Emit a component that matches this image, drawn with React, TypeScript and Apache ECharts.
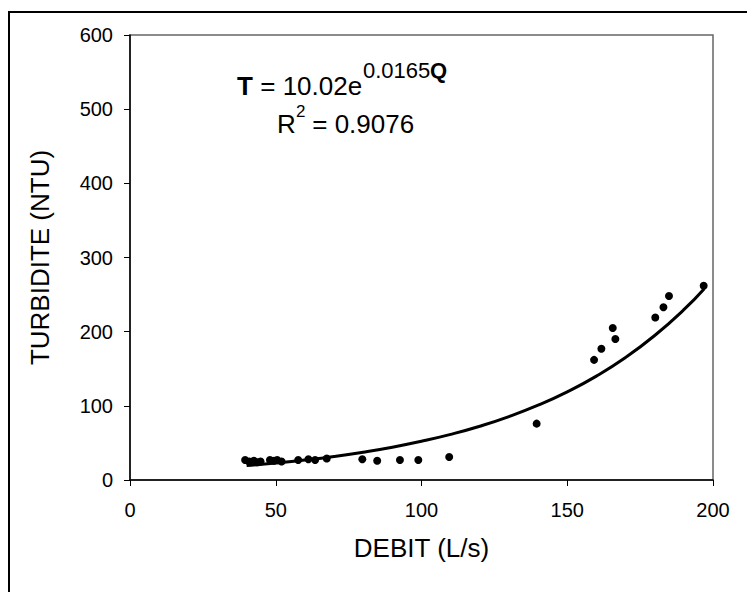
import React, { useEffect, useRef } from "react";
import * as echarts from "echarts";

// Observed points: discharge Q (L/s) and turbidity T (NTU)
const debit = [
  39.5, 40.9, 42.5, 43.7, 44.8, 48.0, 49.4, 50.5, 52.0, 57.7, 61.2, 63.5, 67.5,
  79.7, 84.8, 92.6, 98.9, 109.5, 139.5, 159.2, 161.7, 165.6, 166.5, 180.2, 183.0,
  184.9, 196.8,
];
const turbidite = [
  27, 25, 26, 24, 25, 27, 26, 27, 25, 27, 28, 27, 29, 28, 26, 27, 27, 31, 76,
  162, 177, 205, 190, 219, 233, 248, 262,
];

// Trend line
const trendQ = [40, 50, 60, 70, 80, 90, 100, 110, 120, 130, 140, 150, 160, 170, 180, 190, 197];
const trendT = [19.4, 22.9, 27.0, 31.8, 37.5, 44.2, 52.2, 61.5, 72.5, 85.5, 100.8, 118.8, 140.1, 165.2, 194.8, 229.6, 258];

const xTicks = [0, 50, 100, 150, 200];
const yTicks = [0, 100, 200, 300, 400, 500, 600];

const FONT = "'Liberation Sans', Arial, sans-serif";

export default function App() {
  const ref = useRef<HTMLDivElement>(null);
  useEffect(() => {
    if (!ref.current) return;
    const chart = echarts.init(ref.current, undefined, { renderer: "svg" });
    const pts = debit.map((q, i) => [q, turbidite[i]]);
    const trend = trendQ.map((q, i) => [q, trendT[i]]);
    chart.setOption({
      animation: false,
      backgroundColor: "#ffffff",
      textStyle: { fontFamily: FONT },
      grid: {
        left: 130,
        top: 35,
        right: 34,
        bottom: 112,
        show: true,
        borderColor: "#666666",
        borderWidth: 1.5,
        backgroundColor: "transparent",
      },
      xAxis: {
        type: "value",
        min: xTicks[0],
        max: xTicks[xTicks.length - 1],
        interval: 50,
        name: "DEBIT (L/s)",
        nameLocation: "middle",
        nameGap: 55,
        nameTextStyle: { fontSize: 26, color: "#000", fontFamily: FONT },
        axisLine: { show: true, onZero: false, lineStyle: { color: "#000", width: 1.5 } },
        axisTick: { show: true, inside: false, length: 6, lineStyle: { color: "#000", width: 1 } },
        axisLabel: { fontSize: 20, color: "#000", margin: 20, fontFamily: FONT },
        splitLine: { show: false },
      },
      yAxis: {
        type: "value",
        min: yTicks[0],
        max: yTicks[yTicks.length - 1],
        interval: 100,
        name: "TURBIDITE (NTU)",
        nameLocation: "middle",
        nameGap: 77,
        nameRotate: 90,
        nameTextStyle: { fontSize: 26, color: "#000", fontFamily: FONT },
        axisLine: { show: true, onZero: false, lineStyle: { color: "#000", width: 1.5 } },
        axisTick: { show: true, inside: false, length: 6, lineStyle: { color: "#000", width: 1 } },
        axisLabel: { fontSize: 20, color: "#000", margin: 17, fontFamily: FONT },
        splitLine: { show: false },
      },
      series: [
        {
          type: "line",
          data: trend,
          smooth: true,
          showSymbol: false,
          symbol: "none",
          lineStyle: { color: "#000", width: 3 },
          z: 2,
        },
        {
          type: "scatter",
          data: pts,
          symbol: "circle",
          symbolSize: 8,
          itemStyle: { color: "#000", opacity: 1 },
          z: 3,
        },
      ],
      graphic: [
        {
          type: "rect",
          shape: { x: 9, y: 12, width: 900, height: 800 },
          style: { fill: "none", stroke: "#000", lineWidth: 2 },
          silent: true,
        },
        {
          type: "text",
          x: 237,
          y: 86,
          style: { text: "T", font: `bold 26px ${FONT}`, fill: "#000", verticalAlign: "middle", align: "left" },
        },
        {
          type: "text",
          x: 253,
          y: 86,
          style: { text: " = 10.02e", font: `26px ${FONT}`, fill: "#000", verticalAlign: "middle", align: "left" },
        },
        {
          type: "text",
          x: 363,
          y: 70,
          style: { text: "0.0165", font: `22px ${FONT}`, fill: "#000", verticalAlign: "middle", align: "left" },
        },
        {
          type: "text",
          x: 430,
          y: 70,
          style: { text: "Q", font: `bold 22px ${FONT}`, fill: "#000", verticalAlign: "middle", align: "left" },
        },
        {
          type: "text",
          x: 277,
          y: 124,
          style: { text: "R", font: `26px ${FONT}`, fill: "#000", verticalAlign: "middle", align: "left" },
        },
        {
          type: "text",
          x: 296,
          y: 111,
          style: { text: "2", font: `17px ${FONT}`, fill: "#000", verticalAlign: "middle", align: "left" },
        },
        {
          type: "text",
          x: 305,
          y: 124,
          style: { text: " = 0.9076", font: `26px ${FONT}`, fill: "#000", verticalAlign: "middle", align: "left" },
        },
      ],
    });
    return () => chart.dispose();
  }, []);
  return (
    <div
      ref={ref}
      style={{ position: "fixed", left: 0, top: 0, width: 747, height: 592 }}
    />
  );
}
